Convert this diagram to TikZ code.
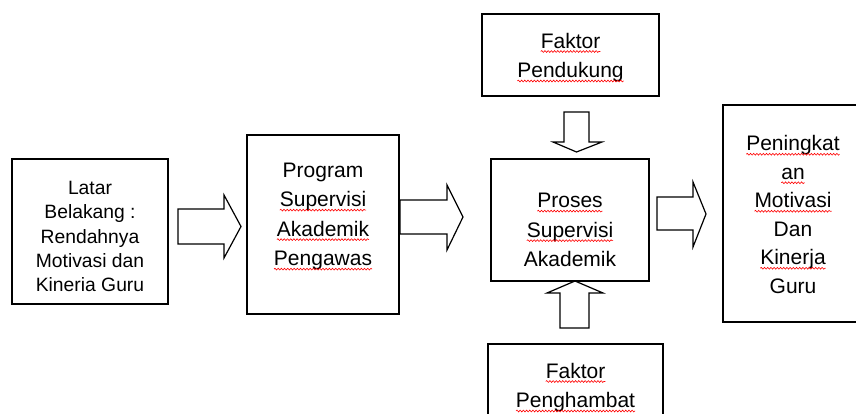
\documentclass[tikz,border=0pt]{standalone}
\usepackage{fontspec}
\setmainfont{Liberation Sans}
\usepackage{xcolor}
\usetikzlibrary{positioning, decorations.pathmorphing}

\newcommand\redwave[1]{\tikz[baseline=(w.base), x=1pt, y=1pt]{\node [inner sep=0pt, outer sep=0pt, draw=none, anchor=base] (w) {#1};
    \draw [red, line width=0.6pt, decorate, decoration={snake, amplitude=0.9pt, segment length=3.2pt}] ([yshift=-3.5pt]w.base west) -- ([yshift=-3.5pt]w.base east);}}

\tikzset{
  box/.style={draw, line width=1.4pt, rectangle, inner sep=0pt},
  boxtext/.style={align=center, font=\fontsize{21}{29.5}\selectfont},
  tighttext/.style={align=center, font=\fontsize{21}{28.5}\selectfont},
  smalltext/.style={align=center, font=\fontsize{19.3}{24.2}\selectfont},
  blockarrow/.style={draw, line width=1.2pt, fill=white, line join=miter}
}

\begin{document}
\begin{tikzpicture}[x=1pt, y=-1pt]
    \useasboundingbox (0,0) rectangle (856,414);

    \node [box, minimum width=156pt, minimum height=145pt,
           label={[smalltext, yshift=-5pt]center:{Latar\\Belakang :\\Rendahnya\\Motivasi dan\\Kineria Guru}}] (latar) at (90,231.5) {};
    \node [box, minimum width=152pt, minimum height=179pt,
           label={[boxtext, yshift=8pt]center:{Program\\\redwave{Supervisi}\\\redwave{Akademik}\\\redwave{Pengawas}}}] (program) at (323,224.5) {};
    \node [box, minimum width=177pt, minimum height=82pt,
           label={[boxtext, yshift=-2.5pt]center:{\redwave{Faktor}\\\redwave{Pendukung}}}] (pendukung) at (570.5,55) {};
    \node [box, minimum width=158pt, minimum height=122pt,
           label={[boxtext, yshift=-10pt]center:{\redwave{Proses}\\\redwave{Supervisi}\\Akademik}}] (proses) at (570,220) {};
    \node [box, minimum width=175pt, minimum height=82pt,
           label={[boxtext, yshift=-2.5pt]center:{\redwave{Faktor}\\\redwave{Penghambat}}}] (penghambat) at (575.5,385) {};
    \node [box, minimum width=140pt, minimum height=217pt,
           label={[tighttext, yshift=-1pt]center:{\redwave{Peningkat}\\\redwave{an}\\\redwave{Motivasi}\\Dan\\\redwave{Kinerja}\\Guru}}] (peningkatan) at (793,213.5) {};

    \draw [blockarrow] (178,209) -- (224,209) -- (224,195) -- (241,226.5) -- (224,258) -- (224,244) -- (178,244) -- cycle;
    \draw [blockarrow] (400,200) -- (447,200) -- (447,185) -- (463,217) -- (447,250) -- (447,234) -- (400,234) -- cycle;
    \draw [blockarrow] (657,197) -- (693,197) -- (693,182) -- (706,214) -- (693,247) -- (693,230) -- (657,230) -- cycle;
    \draw [blockarrow] (564,112) -- (589,112) -- (589,142) -- (602,142) -- (576.5,152) -- (553,142) -- (564,142) -- cycle;
    \draw [blockarrow] (560,328) -- (589,328) -- (589,293) -- (603,293) -- (575,281) -- (547,293) -- (560,293) -- cycle;
\end{tikzpicture}
\end{document}
